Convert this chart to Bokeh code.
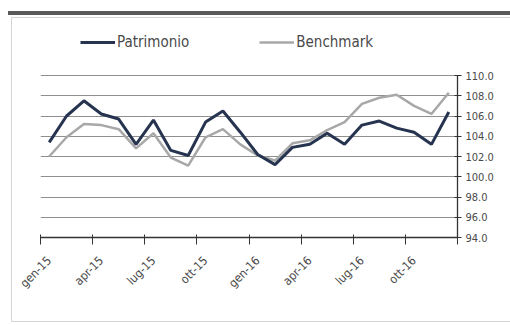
import numpy as np
from bokeh.plotting import figure
from bokeh.layouts import column
from bokeh.models import FixedTicker, Legend, LegendItem, NumeralTickFormatter
from bokeh.embed import file_html
from bokeh.resources import INLINE

# Monthly index values, Jan 2015 - Dec 2016
months = ["gen-15", "feb-15", "mar-15", "apr-15", "mag-15", "giu-15",
          "lug-15", "ago-15", "set-15", "ott-15", "nov-15", "dic-15",
          "gen-16", "feb-16", "mar-16", "apr-16", "mag-16", "giu-16",
          "lug-16", "ago-16", "set-16", "ott-16", "nov-16", "dic-16"]

patrimonio = [103.4, 106.0, 107.5, 106.2, 105.7, 103.2, 105.6, 102.6,
              102.1, 105.4, 106.5, 104.4, 102.2, 101.2, 102.9, 103.2,
              104.3, 103.2, 105.1, 105.5, 104.8, 104.4, 103.2, 106.4]

benchmark = [102.0, 103.9, 105.2, 105.1, 104.7, 102.8, 104.3, 101.9,
             101.1, 103.9, 104.7, 103.2, 102.1, 101.6, 103.3, 103.6,
             104.6, 105.4, 107.2, 107.8, 108.1, 107.0, 106.2, 108.3]

y_ticks = [94, 96, 98, 100, 102, 104, 106, 108, 110]
label_every = 3  # one labelled month per quarter

FONT = "DejaVu Sans Condensed"
TEXT = "#4a4a4a"

# Layout: the value scale (94-110) occupies 162 px; the frame extends above
# it to leave room for the legend inside the frame.
W, H = 510, 325
border_top, border_bottom = 20, 88
scale_px = 162
frame_h = H - border_top - border_bottom
y_lo, y_hi = y_ticks[0], y_ticks[-1]
y_end = y_lo + (y_hi - y_lo) * frame_h / scale_px

n = len(months)
x = np.arange(n) + 0.5

p = figure(width=W, height=H, x_range=(0, n), y_range=(y_lo, y_end),
           y_axis_location="right", output_backend="svg", toolbar_location=None,
           min_border_left=40, min_border_right=53, min_border_top=border_top,
           min_border_bottom=border_bottom)
p.outline_line_color = None
p.background_fill_alpha = 0
p.border_fill_alpha = 0

r_bench = p.line(x, benchmark, color="#a8a8a8", line_width=2.5)
r_patr = p.line(x, patrimonio, color="#26344f", line_width=3)

# Horizontal gridlines
p.xgrid.visible = False
p.ygrid.ticker = FixedTicker(ticks=y_ticks[1:])
p.ygrid.grid_line_color = "#8f8f8f"
p.ygrid.grid_line_width = 1

# Bottom axis: labels at quarter months, tick marks between categories
xa = p.xaxis[0]
label_pos = [float(v) for v in x[::label_every]]
xa.ticker = FixedTicker(ticks=label_pos,
                        minor_ticks=list(range(0, n + 1, label_every)))
xa.major_label_overrides = {v: months[i * label_every] for i, v in enumerate(label_pos)}
xa.major_tick_in = 0
xa.major_tick_out = 0
xa.minor_tick_in = 3
xa.minor_tick_out = 7
xa.minor_tick_line_color = "#333333"
xa.axis_line_color = "#333333"
xa.axis_line_width = 1.3
xa.major_label_orientation = np.pi / 4
xa.major_label_standoff = 14
xa.major_label_text_font = FONT
xa.major_label_text_font_size = "12px"
xa.major_label_text_color = TEXT

# Right value axis, drawn only over the value scale
ya = p.yaxis[0]
ya.bounds = (y_lo, y_hi)
ya.ticker = FixedTicker(ticks=y_ticks)
ya.formatter = NumeralTickFormatter(format="0.0")
ya.major_tick_in = 3
ya.major_tick_out = 4
ya.minor_tick_line_color = None
ya.major_tick_line_color = "#333333"
ya.axis_line_color = "#333333"
ya.axis_line_width = 1.3
ya.major_label_standoff = 4
ya.major_label_text_font = FONT
ya.major_label_text_font_size = "11px"
ya.major_label_text_color = TEXT

legend = Legend(items=[LegendItem(label="Patrimonio", renderers=[r_patr]),
                       LegendItem(label="Benchmark", renderers=[r_bench])],
                orientation="horizontal", location=(40, 186),
                glyph_width=35, glyph_height=16, label_height=16,
                label_standoff=2, spacing=70, padding=0, margin=0,
                border_line_alpha=0, background_fill_alpha=0,
                label_text_font=FONT, label_text_font_size="15px",
                label_text_color=TEXT)
p.add_layout(legend, "center")

# Page chrome behind the transparent canvas: dark header rule and panel frame
page = column(p, width=W, height=H, styles={
    "background": (
        "linear-gradient(#5a5a5a, #5a5a5a) 8px 11px / 502px 4px no-repeat, "
        "linear-gradient(#d6d6d6, #d6d6d6) 11px 17px / 1px 305px no-repeat, "
        "linear-gradient(#d6d6d6, #d6d6d6) 11px 17px / 499px 1px no-repeat, "
        "linear-gradient(#d6d6d6, #d6d6d6) 11px 321px / 499px 1px no-repeat, "
        "white"
    )
})

open("out.html", "w").write(file_html(page, INLINE))
